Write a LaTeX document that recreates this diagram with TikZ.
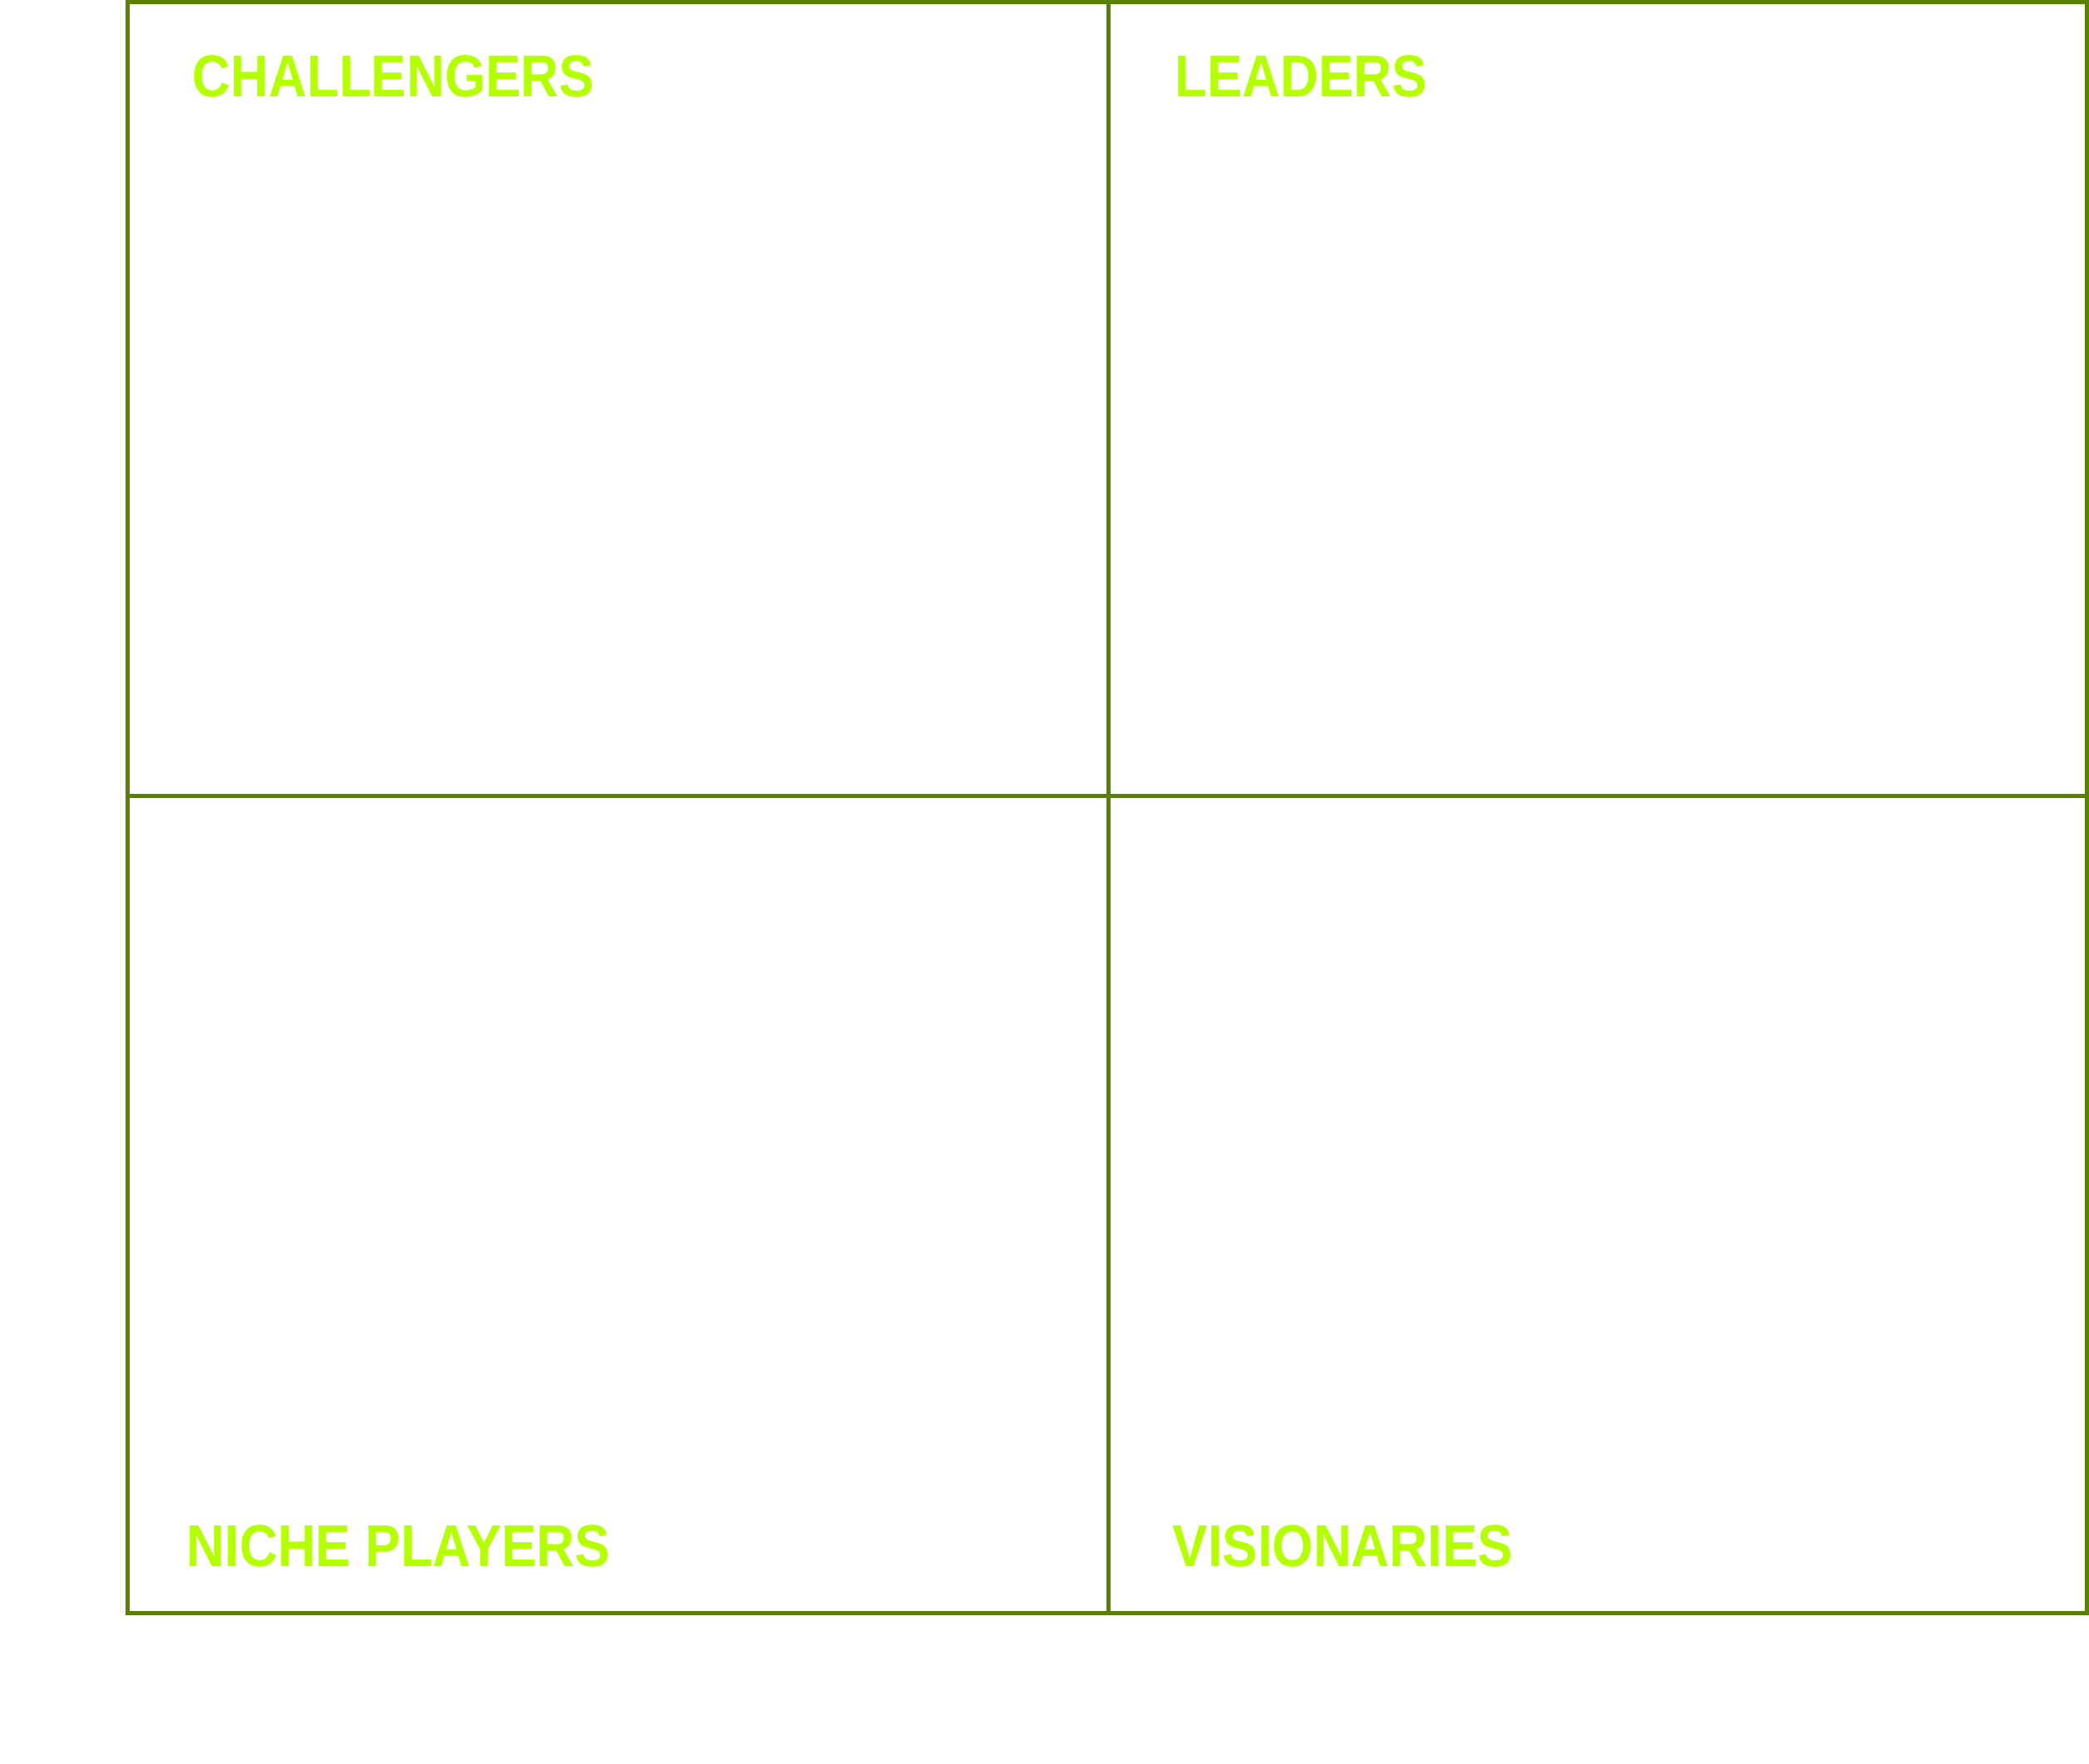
\documentclass[tikz,border=0pt]{standalone}
\usepackage{fontspec}
\setsansfont{Liberation Sans}[FakeStretch=0.89]
\usepackage{tikz}
\definecolor{gridgreen}{RGB}{90,128,0}
\definecolor{limelabel}{RGB}{180,255,0}

\begin{document}
\begin{tikzpicture}[
  x=1cm,y=1cm,
  grid/.style={draw=gridgreen,line width=1.42pt},
  quadlabel/.style={anchor=base west,inner sep=0pt,text=limelabel,
    font=\sffamily\bfseries\fontsize{20.3}{24}\selectfont}
]
  \useasboundingbox (0,0) rectangle (25.13,21.22);

  % quadrant frame
  \coordinate (sw) at (1.535,1.815);
  \coordinate (ne) at (25.105,21.195);
  \coordinate (midtop) at (13.335,21.195);
  \coordinate (midbot) at (13.335,1.815);
  \coordinate (midleft) at (1.535,11.645);
  \coordinate (midright) at (25.105,11.645);
  \draw[grid] (sw) rectangle (ne);
  \draw[grid] (midtop)--(midbot);
  \draw[grid] (midleft)--(midright);

  % labels
  \node[quadlabel] (challengers) at (2.31,20.05) {CHALLENGERS};
  \node[quadlabel] (leaders) at (14.13,20.05) {LEADERS};
  \node[quadlabel] (niche) at (2.24,2.37) {NICHE PLAYERS};
  \node[quadlabel] (visionaries) at (14.10,2.37) {VISIONARIES};
\end{tikzpicture}
\end{document}
